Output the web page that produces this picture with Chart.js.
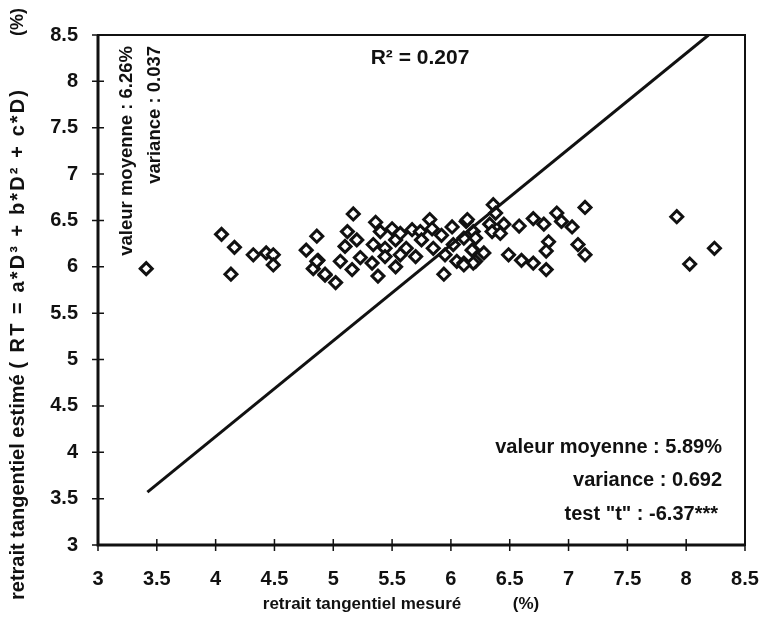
<!DOCTYPE html>
<html lang="fr">
<head>
    <meta charset="utf-8" />
    <title>Retrait tangentiel</title>
    <style>
        html, body {
            margin: 0;
            padding: 0;
            background: white;
        }

        #wrap {
            width: 761px;
            height: 620px;
        }
    </style>
</head>
<body>
    <div id="wrap"><canvas id="chart" width="761" height="620"></canvas></div>

    <script src="https://cdn.jsdelivr.net/npm/chart.js@4.4.3/dist/chart.umd.min.js"></script>
    <script>
        // retrait tangentiel mesuré (%)
        const measured = [
            3.41, 4.05, 4.16, 4.13, 4.32, 4.43, 4.49, 4.49, 4.86, 4.77, 4.87, 4.83, 4.93,
            5.17, 4.86, 4.93, 5.02, 5.12, 5.20, 5.10, 5.06, 5.16, 5.23, 5.36, 5.40, 5.34,
            5.33, 5.38, 5.44, 5.44, 5.50, 5.53, 5.53, 5.57, 5.62, 5.57, 5.67, 5.74, 5.70,
            5.75, 5.82, 5.84, 5.85, 5.92, 5.95, 5.94, 6.01, 6.02, 6.05, 6.11, 6.13, 6.19,
            6.19, 6.11, 6.21, 6.36, 6.38, 6.14, 6.33, 6.45, 6.35, 6.42, 6.58, 6.70, 6.79,
            6.90, 6.94, 7.03, 7.14, 6.21, 6.18, 6.28, 6.19, 6.11, 6.49, 6.60, 6.70, 6.81,
            6.83, 6.81, 7.08, 7.14, 7.92, 8.24, 8.03
        ];
        // retrait tangentiel estimé (%)
        const estimated = [
            5.98, 6.35, 6.21, 5.92, 6.13, 6.15, 6.13, 6.02, 6.33, 6.18, 6.07, 5.98, 5.91,
            6.57, 6.06, 5.92, 5.83, 6.38, 6.29, 6.22, 6.06, 5.97, 6.10, 6.48, 6.38, 6.24,
            6.04, 5.90, 6.20, 6.11, 6.41, 6.29, 6.00, 6.36, 6.20, 6.13, 6.40, 6.38, 6.11,
            6.29, 6.51, 6.41, 6.20, 6.34, 6.13, 5.92, 6.43, 6.24, 6.06, 6.31, 6.49, 6.38,
            6.18, 6.04, 6.06, 6.67, 6.58, 6.51, 6.46, 6.46, 6.38, 6.36, 6.44, 6.52, 6.46,
            6.58, 6.49, 6.43, 6.64, 6.31, 6.18, 6.15, 6.04, 6.02, 6.13, 6.07, 6.04, 5.97,
            6.27, 6.17, 6.24, 6.13, 6.54, 6.20, 6.03
        ];

        // droite tracée sur le graphique
        const lineX = [3.42, 8.19];
        const lineY = [3.57, 8.5];

        const axisMin = 3;
        const axisMax = 8.5;
        const axisStep = 0.5;

        const fontFamily = '"Liberation Sans", Arial, sans-serif';

        const annotations = {
            id: 'annotations',
            afterDraw(chart) {
                const ctx = chart.ctx;
                const area = chart.chartArea;
                const xs = chart.scales.x;
                const ys = chart.scales.y;

                ctx.save();
                ctx.strokeStyle = '#111';

                // cadre
                ctx.lineWidth = 2;
                ctx.strokeRect(area.left, area.top, area.right - area.left, area.bottom - area.top);
                ctx.lineWidth = 3;
                ctx.beginPath();
                ctx.moveTo(area.left, area.top);
                ctx.lineTo(area.left, area.bottom);
                ctx.lineTo(area.right, area.bottom);
                ctx.stroke();

                // graduations en croix
                ctx.lineWidth = 1.5;
                ctx.beginPath();
                xs.ticks.forEach(t => {
                    const px = xs.getPixelForValue(t.value);
                    ctx.moveTo(px, area.bottom - 6);
                    ctx.lineTo(px, area.bottom + 6);
                });
                ys.ticks.forEach(t => {
                    const py = ys.getPixelForValue(t.value);
                    ctx.moveTo(area.left - 6, py);
                    ctx.lineTo(area.left + 6, py);
                });
                ctx.stroke();

                ctx.fillStyle = '#111';
                ctx.textBaseline = 'middle';

                ctx.font = 'bold 21px ' + fontFamily;
                ctx.textAlign = 'center';
                ctx.fillText('R² = 0.207', 420, 58);

                ctx.font = 'bold 20px ' + fontFamily;
                ctx.textAlign = 'right';
                ctx.fillText('valeur moyenne : 5.89%', 722, 447);
                ctx.fillText('variance : 0.692', 722, 480);
                ctx.fillText('test "t" : -6.37***', 718, 514);

                // axe x
                ctx.font = 'bold 17px ' + fontFamily;
                ctx.textAlign = 'center';
                ctx.fillText('retrait tangentiel mesuré', 362, 604);
                ctx.fillText('(%)', 526, 604);

                // textes verticaux
                ctx.save();
                ctx.translate(127, 46);
                ctx.rotate(-Math.PI / 2);
                ctx.textAlign = 'right';
                ctx.font = 'bold 18.5px ' + fontFamily;
                ctx.fillText('valeur moyenne : 6.26%', 0, 0);
                ctx.fillText('variance : 0.037', 0, 28);
                ctx.restore();

                ctx.save();
                ctx.translate(18, 600);
                ctx.rotate(-Math.PI / 2);
                ctx.textAlign = 'left';
                ctx.font = 'bold 20px ' + fontFamily;
                const part1 = 'retrait tangentiel estimé ';
                ctx.fillText(part1, 0, 0);
                let pos = ctx.measureText(part1).width;
                // l'équation est plus espacée dans l'original
                for (const ch of '( RT = a*D³ + b*D² + c*D)') {
                    ctx.fillText(ch, pos, 0);
                    pos += ctx.measureText(ch).width + 2.1;
                }
                ctx.textAlign = 'center';
                ctx.font = 'bold 18px ' + fontFamily;
                ctx.fillText('(%)', 578, 0);
                ctx.restore();

                ctx.restore();
            }
        };

        const canvas = document.getElementById('chart');

        const tickFont = { family: fontFamily, size: 20, weight: 'bold' };

        const config = {
            type: 'scatter',
            data: {
                datasets: [
                    {
                        label: 'droite',
                        data: lineX.map((x, i) => ({ x: x, y: lineY[i] })),
                        showLine: true,
                        borderColor: '#111',
                        borderWidth: 3,
                        pointRadius: 0,
                        fill: false
                    },
                    {
                        label: 'individus',
                        data: measured.map((x, i) => ({ x: x, y: estimated[i] })),
                        pointStyle: 'rectRot',
                        pointRadius: 6,
                        pointBorderWidth: 3,
                        borderColor: '#111',
                        backgroundColor: '#fff'
                    }
                ]
            },
            options: {
                responsive: false,
                animation: false,
                layout: {
                    padding: { left: 0, right: 16, top: 35, bottom: 0 }
                },
                plugins: {
                    legend: { display: false },
                    tooltip: { enabled: false }
                },
                scales: {
                    x: {
                        type: 'linear',
                        min: axisMin,
                        max: axisMax,
                        border: { display: false },
                        grid: { display: false, drawTicks: true, tickLength: 22 },
                        ticks: {
                            stepSize: axisStep,
                            padding: 0,
                            color: '#111',
                            font: tickFont,
                            callback: v => String(v)
                        },
                        afterFit(scale) { scale.height = 75; }
                    },
                    y: {
                        type: 'linear',
                        min: axisMin,
                        max: axisMax,
                        border: { display: false },
                        grid: { display: false, drawTicks: true, tickLength: 20 },
                        ticks: {
                            stepSize: axisStep,
                            padding: 0,
                            color: '#111',
                            font: tickFont,
                            callback: v => String(v)
                        },
                        afterFit(scale) { scale.width = 98; }
                    }
                }
            },
            plugins: [annotations]
        };

        new Chart(canvas, config);
    </script>
</body>
</html>
